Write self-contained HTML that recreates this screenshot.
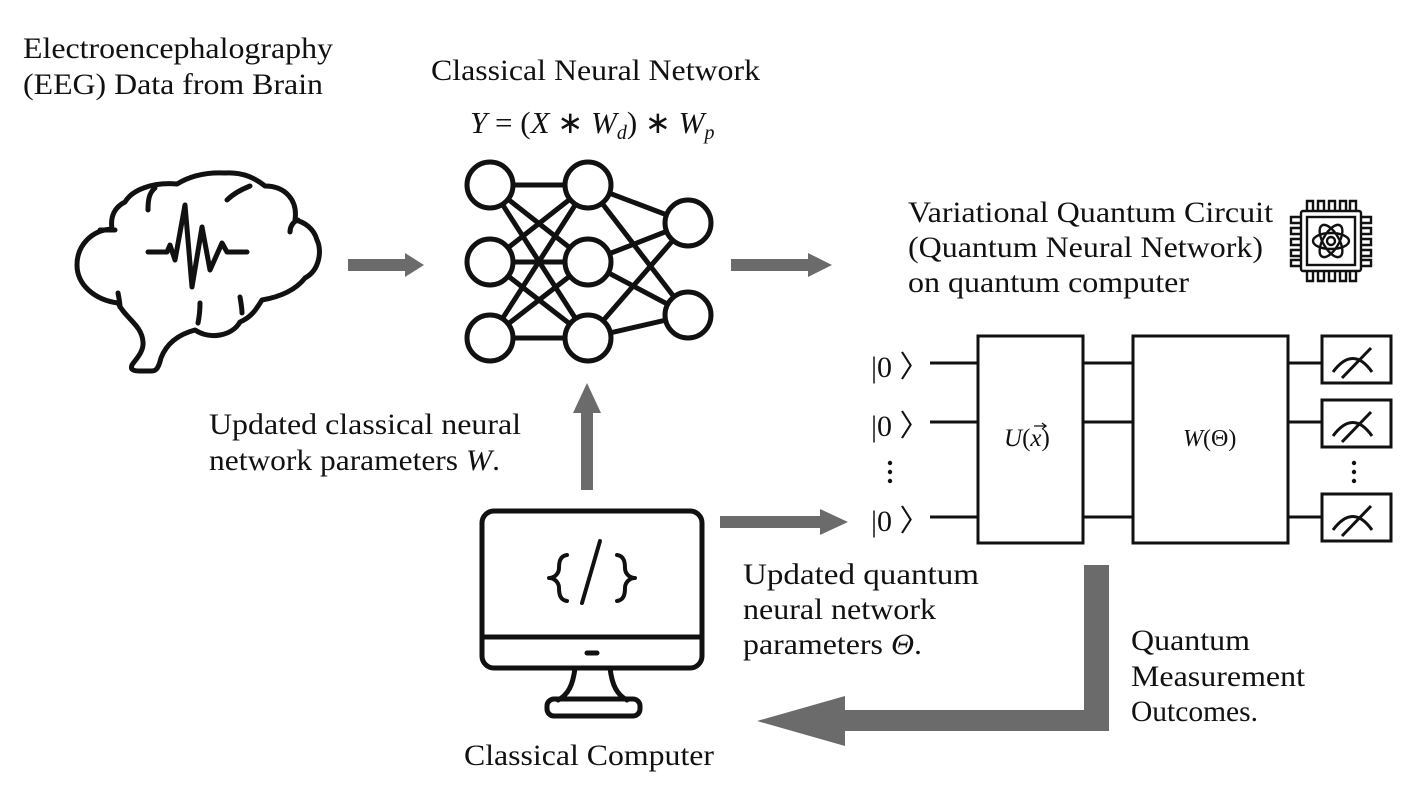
<!DOCTYPE html>
<html><head><meta charset="utf-8"><style>
html,body{margin:0;padding:0;background:#fff;}
svg{display:block;}
text{font-family:"Liberation Serif",serif;fill:#111;}
</style></head><body>
<svg width="1411" height="794" viewBox="0 0 1411 794" xmlns="http://www.w3.org/2000/svg">
<rect width="1411" height="794" fill="#fff"/>
<g font-size="30" lengthAdjust="spacingAndGlyphs">
<text x="23" y="58" textLength="310" lengthAdjust="spacingAndGlyphs">Electroencephalography</text>
<text x="23" y="94" textLength="300" lengthAdjust="spacingAndGlyphs">(EEG) Data from Brain</text>
<text x="431" y="80" textLength="329" lengthAdjust="spacingAndGlyphs">Classical Neural Network</text>
<text x="908" y="222" textLength="365" lengthAdjust="spacingAndGlyphs">Variational Quantum Circuit</text>
<text x="908" y="257" textLength="355" lengthAdjust="spacingAndGlyphs">(Quantum Neural Network)</text>
<text x="908" y="292" textLength="281" lengthAdjust="spacingAndGlyphs">on quantum computer</text>
<text x="209" y="434" textLength="312" lengthAdjust="spacingAndGlyphs">Updated classical neural</text>
<text x="209" y="470" textLength="291" lengthAdjust="spacingAndGlyphs">network parameters <tspan font-style="italic">W</tspan>.</text>
<text x="743" y="584" textLength="236" lengthAdjust="spacingAndGlyphs">Updated  quantum</text>
<text x="743" y="619" textLength="193" lengthAdjust="spacingAndGlyphs">neural network</text>
<text x="743" y="654" textLength="179" lengthAdjust="spacingAndGlyphs">parameters <tspan font-style="italic">Θ</tspan>.</text>
<text x="1131" y="650" textLength="119" lengthAdjust="spacingAndGlyphs">Quantum</text>
<text x="1131" y="686" textLength="174" lengthAdjust="spacingAndGlyphs">Measurement</text>
<text x="1131" y="721" textLength="127" lengthAdjust="spacingAndGlyphs">Outcomes.</text>
<text x="464" y="765" textLength="250" lengthAdjust="spacingAndGlyphs">Classical Computer</text>
</g>
<text x="470" y="133" font-size="31" font-style="italic">Y<tspan font-style="normal"> = (</tspan>X<tspan font-style="normal"> ∗ </tspan>W<tspan font-size="20" dy="6">d</tspan><tspan font-style="normal" dy="-6">) ∗ </tspan>W<tspan font-size="20" dy="6">p</tspan></text>

<!-- brain -->
<g fill="none" stroke="#111" stroke-width="5" stroke-linecap="round" stroke-linejoin="round">
<path d="M112,229 C92,230 77,245 77,265 C77,285 95,300 118,303 C125,318 142,325 143,342 C144,352 135,360 132,365 C130,370 134,371 140,371 L152,371 C157,371 159,366 161,358 C166,345 176,335 195,330 C210,340 232,336 240,322 C252,317 257,308 262,300 C285,296 298,287 305,278 C320,270 322,250 317,240 C314,229 305,222 295,220 C298,200 285,186 265,186 C255,178 243,172 225,173 C205,172 190,176 177,184 C152,182 132,190 125,202 C115,207 110,216 112,229"/>
<path d="M100,230 L115,230"/>
<path d="M155,188 C149,193 148,200 148,210"/>
<path d="M250,186 C240,190 232,195 227,200"/>
<path d="M298,220 C292,222 290,228 290,232"/>
<path d="M118,293 C119,298 120,303 120,307"/>
<path d="M200,303 C200,310 199,318 198,323"/>
<path d="M240,297 C241,303 242,308 242,313"/>
<path d="M148,252 L167,252 L170,245 L175,260 L185,205 L192,287 L202,227 L210,270 L222,243 L227,252 L247,252"/>
</g>

<!-- neural net -->
<g stroke="#111" stroke-width="5" fill="none">
<line x1="490" y1="185" x2="588" y2="185"/><line x1="490" y1="185" x2="588" y2="262"/><line x1="490" y1="185" x2="588" y2="338"/>
<line x1="490" y1="262" x2="588" y2="185"/><line x1="490" y1="262" x2="588" y2="262"/><line x1="490" y1="262" x2="588" y2="338"/>
<line x1="490" y1="338" x2="588" y2="185"/><line x1="490" y1="338" x2="588" y2="262"/><line x1="490" y1="338" x2="588" y2="338"/>
<line x1="588" y1="185" x2="688" y2="223"/><line x1="588" y1="185" x2="688" y2="315"/>
<line x1="588" y1="262" x2="688" y2="223"/><line x1="588" y1="262" x2="688" y2="315"/>
<line x1="588" y1="338" x2="688" y2="223"/><line x1="588" y1="338" x2="688" y2="315"/>
</g>
<g stroke="#111" stroke-width="5" fill="#fff">
<circle cx="490" cy="185" r="23"/><circle cx="490" cy="262" r="23"/><circle cx="490" cy="338" r="23"/>
<circle cx="588" cy="185" r="23"/><circle cx="588" cy="262" r="23"/><circle cx="588" cy="338" r="23"/>
<circle cx="688" cy="223" r="23"/><circle cx="688" cy="315" r="23"/>
</g>

<!-- gray arrows -->
<g fill="#6b6b6b">
<polygon points="348,259 405,259 405,253 424,265 405,277 405,271 348,271"/>
<polygon points="731,259 808,259 808,253 832,265 808,277 808,271 731,271"/>
<polygon points="581,490 581,413 573,413 587,383 601,413 593,413 593,490"/>
<polygon points="720,516 820,516 820,509 848,522 820,535 820,528 720,528"/>
<polygon points="1084,565 1109,565 1109,731 845,731 845,746 757,721 845,696 845,710 1084,710"/>
</g>

<!-- monitor -->
<g fill="none" stroke="#111" stroke-width="5" stroke-linejoin="round" stroke-linecap="round">
<rect x="482" y="511" width="220" height="157" rx="12"/>
<line x1="482" y1="637" x2="702" y2="637"/>
<line x1="587" y1="653" x2="597" y2="653"/>
<path d="M575,668 C573,685 568,695 558,700 M610,668 C612,685 617,695 627,700"/>
<rect x="547" y="699" width="93" height="17" rx="7"/>
</g>
<g fill="none" stroke="#111" stroke-width="4" stroke-linejoin="round" stroke-linecap="round">
<path d="M567,555 C560,556 559,562 559,568 C559,574 554,578 549,578 C554,578 559,582 559,588 C559,594 560,600 567,601"/>
<path d="M617,555 C624,556 625,562 625,568 C625,574 630,578 635,578 C630,578 625,582 625,588 C625,594 624,600 617,601"/>
<line x1="600" y1="541" x2="582" y2="603"/>
</g>

<!-- chip -->
<g fill="none" stroke="#111" stroke-width="2.4">
<rect x="1301" y="211" width="60" height="60" rx="2"/>
<rect x="1307" y="217" width="48" height="48"/>
<path d="M1307,211 v-10 h6 v10 M1318,211 v-10 h6 v10 M1329,211 v-10 h6 v10 M1340,211 v-10 h6 v10 M1350,211 v-10 h6 v10"/>
<path d="M1307,271 v10 h6 v-10 M1318,271 v10 h6 v-10 M1329,271 v10 h6 v-10 M1340,271 v10 h6 v-10 M1350,271 v10 h6 v-10"/>
<path d="M1301,217 h-10 v6 h10 M1301,228 h-10 v6 h10 M1301,239 h-10 v6 h10 M1301,250 h-10 v6 h10 M1301,260 h-10 v6 h10"/>
<path d="M1361,217 h10 v6 h-10 M1361,228 h10 v6 h-10 M1361,239 h10 v6 h-10 M1361,250 h10 v6 h-10 M1361,260 h10 v6 h-10"/>
<ellipse cx="1331" cy="241" rx="18" ry="8"/>
<ellipse cx="1331" cy="241" rx="18" ry="8" transform="rotate(60 1331 241)"/>
<ellipse cx="1331" cy="241" rx="18" ry="8" transform="rotate(-60 1331 241)"/>
<circle cx="1331" cy="241" r="4"/>
</g>

<!-- circuit -->
<g stroke="#111" stroke-width="3" fill="none">
<line x1="930" y1="363" x2="978" y2="363"/><line x1="930" y1="422" x2="978" y2="422"/><line x1="930" y1="517" x2="978" y2="517"/>
<line x1="1083" y1="363" x2="1133" y2="363"/><line x1="1083" y1="422" x2="1133" y2="422"/><line x1="1083" y1="517" x2="1133" y2="517"/>
<line x1="1288" y1="363" x2="1322" y2="363"/><line x1="1288" y1="422" x2="1322" y2="422"/><line x1="1288" y1="517" x2="1322" y2="517"/>
<rect x="978" y="336" width="105" height="207"/>
<rect x="1133" y="336" width="155" height="207"/>
<rect x="1322" y="336" width="69" height="47"/>
<rect x="1322" y="400" width="69" height="47"/>
<rect x="1322" y="494" width="69" height="47"/>
<path d="M1333,372 Q1353,345 1372,372 M1342,378 L1371,348"/>
<path d="M1333,436 Q1353,409 1372,436 M1342,442 L1371,412"/>
<path d="M1333,530 Q1353,503 1372,530 M1342,536 L1371,506"/>
</g>
<g font-size="30">
<text x="871" y="377">|0 〉</text>
<text x="871" y="436">|0 〉</text>
<text x="871" y="531">|0 〉</text>
</g>
<g fill="#111"><circle cx="890" cy="463" r="2.2"/><circle cx="890" cy="472" r="2.2"/><circle cx="890" cy="481" r="2.2"/>
<circle cx="1354" cy="463" r="2.2"/><circle cx="1354" cy="472" r="2.2"/><circle cx="1354" cy="481" r="2.2"/></g>
<text x="1004" y="446" font-size="25" font-style="italic">U<tspan font-style="normal">(</tspan>x<tspan font-style="normal">)</tspan></text>
<path d="M1034,426 L1046,426 M1042,423 L1046,426 L1042,429" stroke="#111" stroke-width="1.3" fill="none"/>
<text x="1183" y="446" font-size="24" font-style="italic">W<tspan font-style="normal">(Θ)</tspan></text>
</svg>
</body></html>
